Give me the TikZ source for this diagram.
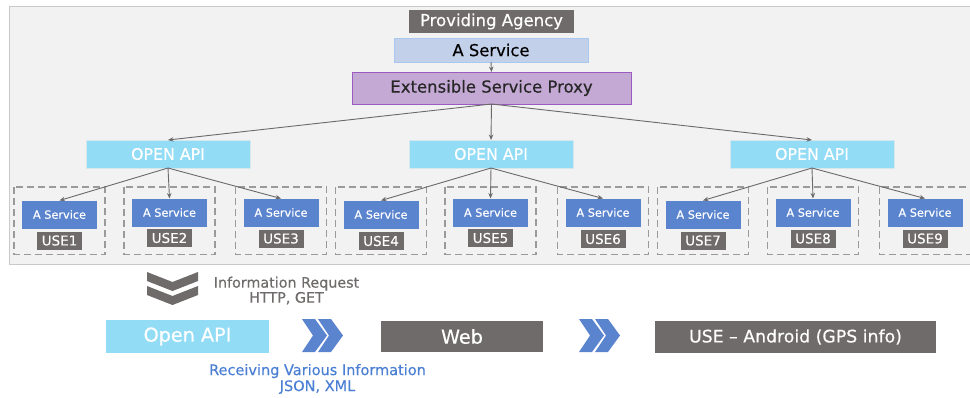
\documentclass[tikz,border=0pt]{standalone}
\usepackage{fontspec}
\setmainfont{DejaVu Sans}[FakeBold=0.35]
\usetikzlibrary{arrows.meta}

\definecolor{darkgrey}{HTML}{6F6B6A}
\definecolor{apicyan}{HTML}{92DCF6}
\definecolor{svcblue}{HTML}{5B84CF}
\definecolor{proxyfill}{HTML}{C4A9D5}
\definecolor{proxyline}{HTML}{9A5CC0}
\definecolor{topfill}{HTML}{C3D0EA}
\definecolor{topline}{HTML}{A8C8F0}
\definecolor{panelfill}{HTML}{F2F2F2}
\definecolor{panelline}{HTML}{C9C9C9}
\definecolor{dashgrey}{HTML}{9A9A9A}
\definecolor{linkgrey}{HTML}{6A6A6A}
\definecolor{infoblue}{HTML}{4A7FD4}

\tikzset{
  box/.style={inner sep=0pt, outer sep=0pt},
  agencybox/.style={box, fill=darkgrey, text=white, font=\fontsize{16.5}{18}\selectfont},
  topsvc/.style={box, fill=topfill, draw=topline, line width=0.8pt, text=black, font=\fontsize{16.4}{18}\selectfont},
  proxybox/.style={box, fill=proxyfill, draw=proxyline, line width=0.9pt, text=black!85, font=\fontsize{16.5}{18}\selectfont},
  apibox/.style={box, fill=apicyan, draw=apicyan!80!black!30!white, line width=0.4pt, text=white, font=\fontsize{15.8}{18}\selectfont, minimum width=164pt, minimum height=28pt},
  svcbox/.style={box, fill=svcblue, text=white, font=\fontsize{11.3}{13}\selectfont, minimum width=75pt, minimum height=28pt},
  usebox/.style={box, fill=darkgrey, text=white, font=\fontsize{13.5}{15}\selectfont, minimum width=45pt, minimum height=18pt},
  groupbox/.style={draw=dashgrey, line width=1.1pt, dash pattern=on 7pt off 4pt},
  link/.style={draw=linkgrey, line width=0.9pt, -{Stealth[length=5.5pt,width=4.5pt]}},
  flowbox/.style={box, text=white, font=\fontsize{19.2}{21}\selectfont},
  chevron/.style={fill=svcblue, draw=none},
  downchev/.style={fill=darkgrey, draw=none},
}

\begin{document}
\begin{tikzpicture}[x=1pt, y=-1pt]
\useasboundingbox (0,0) rectangle (970,397);
\fill[white] (0,0) rectangle (970,397);

% provider panel
\draw[fill=panelfill, draw=panelline, line width=1pt] (9,6) rectangle (975,264);

% provider chain
\node[agencybox, minimum width=165pt, minimum height=23pt] (agency) at (491.5,21.5) {Providing Agency};
\node[topsvc, minimum width=194pt, minimum height=24pt] (topsvc) at (491,50) {A Service};
\node[proxybox, minimum width=279pt, minimum height=32pt] (proxy) at (491.5,88) {Extensible Service Proxy};
\draw[link] (topsvc.south) -- (proxy.north);

% open API gateways
\node[apibox] (api1) at (168,154) {OPEN API};
\node[apibox] (api2) at (491,154) {OPEN API};
\node[apibox] (api3) at (812,154) {OPEN API};
\foreach \a in {api1,api2,api3}
  \draw[link] (proxy.south) -- (\a.north);

% service groups: index / centre x / service centre y / user centre y / parent gateway
\foreach \i/\cx/\sy/\uy/\p in {1/59.5/214.5/240.5/api1, 2/169.5/212.5/238/api1, 3/281/212.5/238.5/api1,
                               4/381/214.5/241/api2, 5/490.5/212.5/238/api2, 6/603/212.5/239/api2,
                               7/703/214.5/240.5/api3, 8/813/212.5/238.5/api3, 9/925/212.5/238.5/api3} {
  \draw[groupbox] (\cx-45.5,187) rectangle (\cx+45.5,254.5);
  \node[svcbox] (svc\i) at (\cx,\sy) {A Service};
  \node[usebox] (use\i) at (\cx,\uy) {USE\i};
  \draw[link] (\p.south) -- (svc\i.north);
}

% request indicator
\foreach \dy in {0,14} {
  \fill[downchev] (147,272+\dy) -- (172.5,282+\dy) -- (198,272+\dy) -- (198,281+\dy)
                  -- (172.5,291+\dy) -- (147,281+\dy) -- cycle;
}
\node[text=darkgrey, font=\fontsize{14.3}{15}\selectfont, align=center, inner sep=0pt] (req) at (286.5,290.5)
  {Information Request\\HTTP, GET};

% data flow row
\node[flowbox, fill=apicyan, minimum width=163pt, minimum height=33pt] (openapi) at (187.5,336.5) {Open API};
\node[flowbox, fill=darkgrey, minimum width=162pt, minimum height=31pt] (web) at (462,336.5) {Web};
\node[flowbox, fill=darkgrey, minimum width=281pt, minimum height=32pt, font=\fontsize{17.3}{20}\selectfont] (android) at (795.5,337)
  {USE – Android (GPS info)};

\foreach \x in {302,318,579,595} {
  \fill[chevron] (\x,319) -- (\x+13,319) -- (\x+25,335.5) -- (\x+13,352) -- (\x,352) -- (\x+11,335.5) -- cycle;
}

\node[text=infoblue, font=\fontsize{14.5}{16}\selectfont, align=center, inner sep=0pt] (resp) at (317.5,379)
  {Receiving Various Information\\JSON, XML};
\end{tikzpicture}
\end{document}
